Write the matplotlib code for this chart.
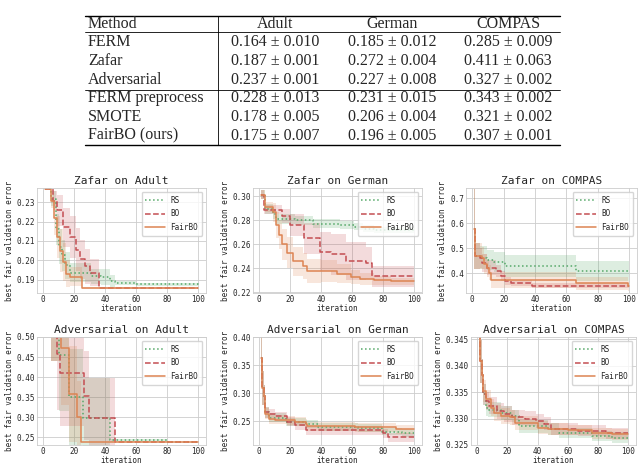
import matplotlib.pyplot as plt
import seaborn as sns
import numpy as np

sns.set_style("whitegrid")
plt.rcParams["font.family"] = ["DejaVu Sans Mono"]

# ---- table data ----
methods = ["FERM", "Zafar", "Adversarial", "FERM preprocess", "SMOTE", "FairBO (ours)"]
datasets = ["Adult", "German", "COMPAS"]
adult_res = ["0.164 ± 0.010", "0.187 ± 0.001", "0.237 ± 0.001", "0.228 ± 0.013", "0.178 ± 0.005", "0.175 ± 0.007"]
german_res = ["0.185 ± 0.012", "0.272 ± 0.004", "0.227 ± 0.008", "0.231 ± 0.015", "0.206 ± 0.004", "0.196 ± 0.005"]
compas_res = ["0.285 ± 0.009", "0.411 ± 0.063", "0.327 ± 0.002", "0.343 ± 0.002", "0.321 ± 0.002", "0.307 ± 0.001"]

# ---- curves: step breakpoints (iteration), mean, std ----
# Zafar on Adult
za_rs_x = [1, 5, 8, 10, 12, 14, 17, 31, 37, 43, 46, 60, 100]
za_rs_y = [0.237, 0.232, 0.216, 0.207, 0.2025, 0.1975, 0.1935, 0.1917, 0.1912, 0.1892, 0.188, 0.1875, 0.1868]
za_rs_sd = [0.0, 0.004, 0.008, 0.009, 0.008, 0.007, 0.005, 0.004, 0.004, 0.003, 0.001, 0.0008, 0.0006]
za_bo_x = [1, 6, 9, 13, 17, 21, 24, 27, 30, 36, 100]
za_bo_y = [0.237, 0.231, 0.226, 0.217, 0.212, 0.2055, 0.2005, 0.1968, 0.1935, 0.1857, 0.1857]
za_bo_sd = [0.0, 0.005, 0.008, 0.010, 0.011, 0.011, 0.010, 0.009, 0.007, 0.0005, 0.0004]
za_fb_x = [1, 5, 7, 9, 11, 13, 15, 17, 25, 100]
za_fb_y = [0.237, 0.231, 0.222, 0.212, 0.205, 0.199, 0.193, 0.1915, 0.1857, 0.1857]
za_fb_sd = [0.0, 0.004, 0.009, 0.011, 0.011, 0.010, 0.007, 0.005, 0.0004, 0.0004]

# Zafar on German
zg_rs_x = [1, 4, 9, 11, 23, 35, 52, 61, 67, 74, 100]
zg_rs_y = [0.3015, 0.2896, 0.2855, 0.2814, 0.280, 0.2773, 0.276, 0.2746, 0.2732, 0.272, 0.272]
zg_rs_sd = [0.004, 0.004, 0.004, 0.004, 0.004, 0.004, 0.0035, 0.003, 0.003, 0.0025, 0.0025]
zg_bo_x = [1, 3, 15, 20, 29, 39, 46, 56, 69, 73, 100]
zg_bo_y = [0.3015, 0.289, 0.2835, 0.276, 0.2651, 0.254, 0.2519, 0.2463, 0.2445, 0.2334, 0.2334]
zg_bo_sd = [0.004, 0.004, 0.006, 0.009, 0.013, 0.016, 0.017, 0.016, 0.013, 0.009, 0.009]
zg_fb_x = [1, 4, 9, 11, 13, 15, 18, 22, 28, 31, 40, 50, 59, 65, 74, 85, 100]
zg_fb_y = [0.3015, 0.291, 0.2868, 0.276, 0.268, 0.260, 0.253, 0.246, 0.242, 0.238, 0.2376, 0.2355, 0.2327, 0.2314, 0.230, 0.2292, 0.2292]
zg_fb_sd = [0.004, 0.004, 0.008, 0.011, 0.012, 0.013, 0.013, 0.012, 0.011, 0.010, 0.009, 0.008, 0.006, 0.005, 0.004, 0.003, 0.003]

# Zafar on COMPAS
zc_rs_x = [1, 2, 5, 9.5, 14, 21, 66, 100]
zc_rs_y = [0.578, 0.469, 0.462, 0.452, 0.445, 0.429, 0.411, 0.411]
zc_rs_sd = [0.16, 0.05, 0.045, 0.04, 0.04, 0.045, 0.04, 0.04]
zc_bo_x = [1, 2, 5, 6, 9.5, 15, 18, 21, 25, 38, 100]
zc_bo_y = [0.578, 0.469, 0.46, 0.44, 0.422, 0.409, 0.389, 0.37, 0.36, 0.35, 0.35]
zc_bo_sd = [0.16, 0.05, 0.04, 0.035, 0.03, 0.025, 0.02, 0.015, 0.012, 0.01, 0.01]
zc_fb_x = [1, 2, 6, 7.5, 9.5, 10.5, 12, 66, 99, 100]
zc_fb_y = [0.578, 0.469, 0.46, 0.437, 0.42, 0.402, 0.373, 0.36, 0.35, 0.35]
zc_fb_sd = [0.16, 0.05, 0.045, 0.04, 0.035, 0.03, 0.03, 0.025, 0.02, 0.02]

# Adversarial on Adult
aa_rs_x = [1, 5, 10, 16.5, 25.5, 43, 80, 100]
aa_rs_y = [0.60, 0.58, 0.455, 0.35, 0.297, 0.242, 0.238, 0.238]
aa_rs_sd = [0.10, 0.14, 0.14, 0.12, 0.10, 0.004, 0.0005, 0.0005]
aa_bo_x = [1, 5, 9, 11, 26, 29.5, 46, 100]
aa_bo_y = [0.60, 0.58, 0.458, 0.409, 0.354, 0.297, 0.238, 0.238]
aa_bo_sd = [0.10, 0.14, 0.14, 0.13, 0.11, 0.10, 0.0005, 0.0005]
aa_fb_x = [1, 5, 11.5, 16.5, 22, 24.5, 100]
aa_fb_y = [0.60, 0.58, 0.4715, 0.358, 0.30, 0.238, 0.238]
aa_fb_sd = [0.10, 0.14, 0.14, 0.12, 0.09, 0.0005, 0.0005]

# Adversarial on German
ag_rs_x = [1, 2, 3, 4, 6, 17, 30, 38, 64, 79, 92, 100]
ag_rs_y = [0.363, 0.31, 0.2955, 0.266, 0.2566, 0.249, 0.246, 0.2404, 0.2375, 0.232, 0.229, 0.229]
ag_rs_sd = [0.04, 0.03, 0.02, 0.01, 0.008, 0.007, 0.007, 0.007, 0.007, 0.007, 0.007, 0.007]
ag_bo_x = [1, 2, 3, 4, 6, 10, 18, 23, 30, 80, 83, 100]
ag_bo_y = [0.363, 0.31, 0.2955, 0.266, 0.2635, 0.259, 0.249, 0.243, 0.2345, 0.229, 0.222, 0.222]
ag_bo_sd = [0.04, 0.03, 0.02, 0.01, 0.008, 0.008, 0.008, 0.008, 0.008, 0.008, 0.008, 0.008]
ag_fb_x = [1, 2, 3, 4, 6, 10, 18, 23, 30, 31, 62, 88, 100]
ag_fb_y = [0.363, 0.31, 0.2955, 0.264, 0.254, 0.2527, 0.2516, 0.249, 0.2455, 0.241, 0.2395, 0.236, 0.236]
ag_fb_sd = [0.04, 0.03, 0.02, 0.01, 0.008, 0.008, 0.008, 0.008, 0.008, 0.008, 0.008, 0.008, 0.008]

# Adversarial on COMPAS
ac_rs_x = [1, 2, 3, 4, 6, 7, 16, 23, 28, 47, 54, 76, 89, 100]
ac_rs_y = [0.352, 0.3408, 0.3383, 0.3346, 0.332, 0.3317, 0.3311, 0.3305, 0.3285, 0.328, 0.3273, 0.3267, 0.3264, 0.3264]
ac_rs_sd = [0.01, 0.004, 0.003, 0.002, 0.0015, 0.0015, 0.0013, 0.0012, 0.0012, 0.0011, 0.001, 0.001, 0.001, 0.001]
ac_bo_x = [1, 2, 3, 4, 6, 8, 13, 18, 23, 32, 39, 44, 49, 67, 85, 100]
ac_bo_y = [0.352, 0.3408, 0.3383, 0.3346, 0.3333, 0.3324, 0.3314, 0.3308, 0.3302, 0.330, 0.3296, 0.329, 0.328, 0.3277, 0.3272, 0.3272]
ac_bo_sd = [0.01, 0.004, 0.003, 0.002, 0.0017, 0.0016, 0.0015, 0.0015, 0.0015, 0.0014, 0.0013, 0.0012, 0.0011, 0.001, 0.001, 0.001]
ac_fb_x = [1, 2, 3, 4, 6, 9, 11, 16, 22, 25, 40, 47, 60, 76, 89, 100]
ac_fb_y = [0.352, 0.3408, 0.3383, 0.3352, 0.3336, 0.332, 0.3311, 0.3305, 0.3302, 0.3292, 0.3283, 0.328, 0.3278, 0.3272, 0.327, 0.327]
ac_fb_sd = [0.01, 0.004, 0.003, 0.002, 0.0017, 0.0016, 0.0015, 0.0015, 0.0014, 0.0013, 0.0012, 0.0011, 0.001, 0.001, 0.001, 0.001]

c_rs, c_bo, c_fb = "#55a868", "#c44e52", "#dd8452"

fig = plt.figure(figsize=(6.4, 4.67), dpi=100)
W, H = 640.0, 467.0


def fx(px):
    return px / W


def fy(py):
    return 1 - py / H


# ---- table ----
serif = "Liberation Serif"
tsize = 11.5
row_y = [42.5, 61, 79.5, 98.5, 117, 135.5]
col_x = [275, 392, 508]


def hline(y, x0, x1, lw):
    fig.add_artist(plt.Line2D([fx(x0), fx(x1)], [fy(y), fy(y)], transform=fig.transFigure, color="k", lw=lw))


hline(16, 85, 560, 1.0)
hline(32, 85, 560, 0.6)
hline(89.5, 85, 560, 0.6)
hline(145, 85, 560, 1.0)
fig.add_artist(plt.Line2D([fx(218), fx(218)], [fy(16), fy(145)], transform=fig.transFigure, color="k", lw=0.6))

fig.text(fx(88), fy(24), "Method", family=serif, fontsize=tsize, va="center")
for cx, name in zip(col_x, datasets):
    fig.text(fx(cx), fy(24), name, family=serif, fontsize=tsize, va="center", ha="center")
for i, m in enumerate(methods):
    fig.text(fx(88), fy(row_y[i]), m, family=serif, fontsize=tsize, va="center")
    for cx, col in zip(col_x, [adult_res, german_res, compas_res]):
        fig.text(fx(cx), fy(row_y[i]), col[i], family=serif, fontsize=tsize, va="center", ha="center")

# ---- plots ----
panels = [
    ("Zafar on Adult", (37, 188, 206, 293), (0.183, 0.2375), np.arange(0.19, 0.2301, 0.01),
     [(za_rs_x, za_rs_y, za_rs_sd), (za_bo_x, za_bo_y, za_bo_sd), (za_fb_x, za_fb_y, za_fb_sd)]),
    ("Zafar on German", (253, 188, 422, 293), (0.2195, 0.307), np.arange(0.22, 0.3001, 0.02),
     [(zg_rs_x, zg_rs_y, zg_rs_sd), (zg_bo_x, zg_bo_y, zg_bo_sd), (zg_fb_x, zg_fb_y, zg_fb_sd)]),
    ("Zafar on COMPAS", (466, 188, 637, 293), (0.321, 0.741), np.arange(0.4, 0.701, 0.1),
     [(zc_rs_x, zc_rs_y, zc_rs_sd), (zc_bo_x, zc_bo_y, zc_bo_sd), (zc_fb_x, zc_fb_y, zc_fb_sd)]),
    ("Adversarial on Adult", (37, 337, 206, 445), (0.2305, 0.50), np.arange(0.25, 0.5001, 0.05),
     [(aa_rs_x, aa_rs_y, aa_rs_sd), (aa_bo_x, aa_bo_y, aa_bo_sd), (aa_fb_x, aa_fb_y, aa_fb_sd)]),
    ("Adversarial on German", (253, 337, 422, 445), (0.208, 0.40), np.arange(0.25, 0.4001, 0.05),
     [(ag_rs_x, ag_rs_y, ag_rs_sd), (ag_bo_x, ag_bo_y, ag_bo_sd), (ag_fb_x, ag_fb_y, ag_fb_sd)]),
    ("Adversarial on COMPAS", (471, 337, 636, 445), (0.325, 0.3454), np.arange(0.325, 0.3451, 0.005),
     [(ac_rs_x, ac_rs_y, ac_rs_sd), (ac_bo_x, ac_bo_y, ac_bo_sd), (ac_fb_x, ac_fb_y, ac_fb_sd)]),
]

styles = [("RS", c_rs, ":"), ("BO", c_bo, "--"), ("FairBO", c_fb, "-")]

for title, (l, t, r, b), ylim, yticks, series in panels:
    ax = fig.add_axes([fx(l), fy(b), (r - l) / W, (b - t) / H])
    for (x, y, sd), (lab, col, ls) in zip(series, styles):
        x = np.array(x, dtype=float)
        y = np.array(y)
        sd = np.array(sd)
        ax.fill_between(x, y - sd, y + sd, step="post", color=col, alpha=0.2, lw=0)
        ax.plot(x, y, drawstyle="steps-post", color=col, ls=ls, lw=1.1, label=lab)
    ax.set_xlim(-4, 105)
    ax.set_ylim(*ylim)
    ax.set_xticks([0, 20, 40, 60, 80, 100])
    ax.set_yticks(yticks)
    ax.ticklabel_format(axis="y", useOffset=False)
    ax.tick_params(labelsize=5.5, pad=1.5, length=0)
    ax.set_title(title, fontsize=8, pad=3)
    ax.set_xlabel("iteration", fontsize=5.5, labelpad=0)
    ax.set_ylabel("best fair validation error", fontsize=5.5, labelpad=2)
    ax.grid(True, lw=0.6)
    for s in ax.spines.values():
        s.set_linewidth(0.6)
    ax.legend(loc="upper right", fontsize=5.5, handlelength=2.5, borderpad=0.5, labelspacing=0.6)

fig.savefig("out.png", dpi=100)
